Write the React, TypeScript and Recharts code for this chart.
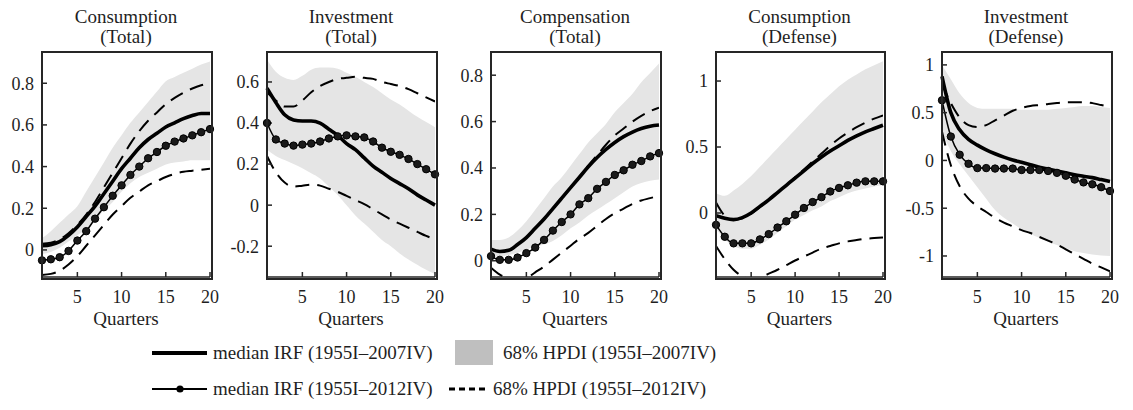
import React from 'react';
import { ComposedChart, Line, Area, XAxis, YAxis } from 'recharts';

// ---------- data ----------
const quarters = [1, 2, 3, 4, 5, 6, 7, 8, 9, 10, 11, 12, 13, 14, 15, 16, 17, 18, 19, 20];
const xTicks = [5, 10, 15, 20];

// Consumption (Total)
const consTotalMed07 = [0.02, 0.025, 0.04, 0.07, 0.11, 0.16, 0.21, 0.27, 0.33, 0.39, 0.44, 0.49, 0.53, 0.56, 0.59, 0.61, 0.63, 0.645, 0.655, 0.655];
const consTotalMed12 = [-0.05, -0.045, -0.035, -0.005, 0.045, 0.09, 0.15, 0.205, 0.26, 0.31, 0.36, 0.40, 0.44, 0.47, 0.50, 0.52, 0.535, 0.55, 0.565, 0.58];
const consTotalBandLo = [-0.02, -0.01, 0.01, 0.04, 0.07, 0.10, 0.14, 0.19, 0.23, 0.28, 0.32, 0.35, 0.37, 0.39, 0.41, 0.42, 0.425, 0.43, 0.43, 0.43];
const consTotalBandHi = [0.056, 0.09, 0.13, 0.17, 0.21, 0.28, 0.35, 0.42, 0.49, 0.55, 0.61, 0.66, 0.71, 0.76, 0.81, 0.83, 0.85, 0.87, 0.89, 0.905];
const consTotalHpdiLo = [-0.12, -0.115, -0.1, -0.07, -0.03, 0.02, 0.07, 0.12, 0.17, 0.21, 0.25, 0.28, 0.31, 0.33, 0.35, 0.365, 0.375, 0.38, 0.385, 0.39];
const consTotalHpdiHi = [0.03, 0.035, 0.05, 0.08, 0.12, 0.17, 0.23, 0.30, 0.37, 0.44, 0.51, 0.57, 0.62, 0.66, 0.70, 0.73, 0.755, 0.775, 0.79, 0.80];
const consTotalTicks = [0, 0.2, 0.4, 0.6, 0.8];

// Investment (Total)
const invTotalMed07 = [0.57, 0.50, 0.44, 0.415, 0.41, 0.41, 0.40, 0.37, 0.34, 0.30, 0.27, 0.23, 0.19, 0.16, 0.13, 0.105, 0.08, 0.05, 0.025, 0.0];
const invTotalMed12 = [0.40, 0.32, 0.30, 0.29, 0.295, 0.30, 0.31, 0.325, 0.335, 0.34, 0.335, 0.33, 0.31, 0.28, 0.26, 0.245, 0.225, 0.20, 0.175, 0.15];
const invTotalBandLo = [0.27, 0.24, 0.22, 0.20, 0.18, 0.155, 0.13, 0.09, 0.05, 0.0, -0.05, -0.09, -0.13, -0.17, -0.20, -0.235, -0.265, -0.29, -0.315, -0.335];
const invTotalBandHi = [0.71, 0.65, 0.62, 0.61, 0.63, 0.66, 0.67, 0.67, 0.665, 0.645, 0.625, 0.60, 0.575, 0.545, 0.515, 0.49, 0.46, 0.43, 0.405, 0.38];
const invTotalHpdiLo = [0.24, 0.16, 0.11, 0.09, 0.095, 0.10, 0.095, 0.08, 0.065, 0.045, 0.025, 0.005, -0.02, -0.045, -0.07, -0.09, -0.11, -0.13, -0.15, -0.165];
const invTotalHpdiHi = [0.55, 0.51, 0.48, 0.48, 0.51, 0.55, 0.58, 0.60, 0.615, 0.62, 0.625, 0.62, 0.615, 0.60, 0.59, 0.58, 0.565, 0.545, 0.525, 0.505];
const invTotalTicks = [-0.2, 0, 0.2, 0.4, 0.6];

// Compensation (Total)
const compTotalMed07 = [0.05, 0.04, 0.045, 0.07, 0.10, 0.14, 0.18, 0.225, 0.27, 0.315, 0.36, 0.405, 0.445, 0.48, 0.51, 0.535, 0.555, 0.57, 0.58, 0.585];
const compTotalMed12 = [0.02, 0.004, 0.004, 0.014, 0.033, 0.057, 0.09, 0.13, 0.167, 0.20, 0.243, 0.27, 0.31, 0.34, 0.37, 0.39, 0.414, 0.43, 0.45, 0.464];
const compTotalBandLo = [0.015, 0.02, 0.025, 0.035, 0.048, 0.06, 0.07, 0.085, 0.11, 0.14, 0.165, 0.195, 0.22, 0.245, 0.27, 0.295, 0.32, 0.335, 0.345, 0.35];
const compTotalBandHi = [0.09, 0.09, 0.10, 0.13, 0.17, 0.22, 0.27, 0.32, 0.36, 0.41, 0.46, 0.51, 0.55, 0.59, 0.64, 0.68, 0.72, 0.77, 0.81, 0.85];
const compTotalHpdiLo = [-0.03, -0.06, -0.075, -0.08, -0.075, -0.05, -0.025, 0.005, 0.035, 0.065, 0.095, 0.12, 0.15, 0.18, 0.205, 0.225, 0.245, 0.26, 0.27, 0.28];
const compTotalHpdiHi = [0.05, 0.04, 0.045, 0.07, 0.10, 0.14, 0.18, 0.225, 0.27, 0.315, 0.36, 0.41, 0.455, 0.50, 0.54, 0.57, 0.60, 0.625, 0.645, 0.66];
const compTotalTicks = [0, 0.2, 0.4, 0.6, 0.8];

// Consumption (Defense)
const consDefMed07 = [-0.02, -0.04, -0.05, -0.035, 0.0, 0.05, 0.10, 0.155, 0.21, 0.265, 0.32, 0.375, 0.425, 0.47, 0.51, 0.55, 0.585, 0.615, 0.64, 0.665];
const consDefMed12 = [-0.09, -0.18, -0.23, -0.23, -0.23, -0.20, -0.16, -0.11, -0.063, -0.013, 0.038, 0.083, 0.12, 0.163, 0.19, 0.21, 0.23, 0.24, 0.24, 0.24];
const consDefBandLo = [-0.12, -0.2, -0.25, -0.27, -0.27, -0.24, -0.2, -0.15, -0.1, -0.05, -0.015, 0.02, 0.05, 0.09, 0.12, 0.15, 0.17, 0.185, 0.2, 0.21];
const consDefBandHi = [0.15, 0.13, 0.17, 0.22, 0.28, 0.35, 0.42, 0.49, 0.56, 0.63, 0.70, 0.77, 0.84, 0.90, 0.96, 1.01, 1.05, 1.09, 1.12, 1.15];
const consDefHpdiLo = [-0.25, -0.35, -0.43, -0.48, -0.50, -0.49, -0.46, -0.43, -0.395, -0.36, -0.33, -0.30, -0.27, -0.25, -0.23, -0.215, -0.205, -0.195, -0.19, -0.185];
const consDefHpdiHi = [0.08, -0.02, -0.05, -0.04, -0.005, 0.045, 0.10, 0.155, 0.21, 0.27, 0.33, 0.39, 0.45, 0.51, 0.565, 0.61, 0.65, 0.685, 0.715, 0.74];
const consDefTicks = [0, 0.5, 1];

// Investment (Defense)
const invDefMed07 = [0.88, 0.5, 0.32, 0.22, 0.16, 0.11, 0.07, 0.035, 0.005, -0.02, -0.045, -0.07, -0.09, -0.11, -0.13, -0.15, -0.165, -0.18, -0.2, -0.22];
const invDefMed12 = [0.63, 0.25, 0.06, -0.035, -0.08, -0.08, -0.085, -0.085, -0.085, -0.1, -0.1, -0.1, -0.11, -0.13, -0.16, -0.2, -0.23, -0.25, -0.28, -0.32];
const invDefBandLo = [0.3, 0.1, -0.04, -0.16, -0.28, -0.4, -0.52, -0.6, -0.66, -0.72, -0.77, -0.81, -0.85, -0.885, -0.92, -0.95, -0.97, -0.985, -0.995, -1.0];
const invDefBandHi = [1.0, 0.85, 0.7, 0.6, 0.55, 0.54, 0.54, 0.54, 0.54, 0.53, 0.53, 0.53, 0.53, 0.54, 0.55, 0.56, 0.57, 0.57, 0.56, 0.55];
const invDefHpdiLo = [0.3, -0.05, -0.27, -0.4, -0.48, -0.54, -0.6, -0.65, -0.69, -0.73, -0.76, -0.8, -0.84, -0.88, -0.93, -0.98, -1.03, -1.08, -1.12, -1.16];
const invDefHpdiHi = [0.8, 0.6, 0.45, 0.37, 0.35, 0.37, 0.42, 0.47, 0.52, 0.55, 0.57, 0.58, 0.59, 0.6, 0.61, 0.61, 0.61, 0.6, 0.58, 0.56];
const invDefTicks = [-1, -0.5, 0, 0.5, 1];

const legendLabels = [
  'median IRF (1955I–2007IV)',
  '68% HPDI (1955I–2007IV)',
  'median IRF (1955I–2012IV)',
  '68% HPDI (1955I–2012IV)',
];

// ---------- styling ----------
const FONT = "'Liberation Serif', 'Times New Roman', serif";
const INK = '#1f1f1f';
const FRAME = '#262626';
const BAND = '#e5e5e5';
const PLOT_TOP = 52;
const PLOT_BOTTOM = 277;
const YW = 46;

function buildRows(m07: number[], m12: number[], bLo: number[], bHi: number[], hLo: number[], hHi: number[]) {
  return quarters.map((q, i) => ({
    q,
    med07: m07[i],
    med12: m12[i],
    band: [bLo[i], bHi[i]],
    hLo: hLo[i],
    hHi: hHi[i],
  }));
}

const panels = [
  { t1: 'Consumption', t2: '(Total)', left: 42, right: 210, domain: [-0.13, 0.95], ticks: consTotalTicks,
    rows: buildRows(consTotalMed07, consTotalMed12, consTotalBandLo, consTotalBandHi, consTotalHpdiLo, consTotalHpdiHi) },
  { t1: 'Investment', t2: '(Total)', left: 267, right: 435, domain: [-0.35, 0.746], ticks: invTotalTicks,
    rows: buildRows(invTotalMed07, invTotalMed12, invTotalBandLo, invTotalBandHi, invTotalHpdiLo, invTotalHpdiHi) },
  { t1: 'Compensation', t2: '(Total)', left: 491, right: 659, domain: [-0.07, 0.9], ticks: compTotalTicks,
    rows: buildRows(compTotalMed07, compTotalMed12, compTotalBandLo, compTotalBandHi, compTotalHpdiLo, compTotalHpdiHi) },
  { t1: 'Consumption', t2: '(Defense)', left: 716, right: 883, domain: [-0.485, 1.22], ticks: consDefTicks,
    rows: buildRows(consDefMed07, consDefMed12, consDefBandLo, consDefBandHi, consDefHpdiLo, consDefHpdiHi) },
  { t1: 'Investment', t2: '(Defense)', left: 942, right: 1110, domain: [-1.22, 1.135], ticks: invDefTicks,
    rows: buildRows(invDefMed07, invDefMed12, invDefBandLo, invDefBandHi, invDefHpdiLo, invDefHpdiHi) },
];

const empty = () => '';

function Panel({ cfg }: { cfg: any }) {
  const plotW = cfg.right - cfg.left;
  const rightPad = 14;
  const width = YW + plotW + rightPad;
  const height = 310;
  const tickStyle = { fill: INK, fontSize: 18, fontFamily: FONT };
  const lineStyle = { stroke: FRAME, strokeWidth: 1.5 };
  return (
    <div style={{ position: 'absolute', left: cfg.left - YW, top: 0, width, height }}>
      <ComposedChart width={width} height={height} data={cfg.rows}
        margin={{ top: PLOT_TOP, right: rightPad, bottom: 0, left: 0 }}>
        <XAxis xAxisId="b" dataKey="q" type="number" domain={[1, 20]} ticks={xTicks} orientation="bottom"
          height={height - PLOT_BOTTOM} tickSize={-5} tickMargin={18} tick={tickStyle} axisLine={lineStyle} tickLine={lineStyle} stroke={FRAME} />
        <XAxis xAxisId="t" dataKey="q" type="number" domain={[1, 20]} ticks={xTicks} orientation="top"
          height={0} tickSize={-5} tickFormatter={empty} allowDataOverflow axisLine={lineStyle} tickLine={lineStyle} stroke={FRAME} />
        <YAxis yAxisId="l" type="number" domain={cfg.domain} ticks={cfg.ticks} width={YW} tickSize={-5} tickMargin={13}
          tick={tickStyle} axisLine={lineStyle} tickLine={lineStyle} stroke={FRAME} />
        <YAxis yAxisId="r" orientation="right" type="number" domain={cfg.domain} ticks={cfg.ticks} width={0} tickSize={-5}
          tickFormatter={empty} allowDataOverflow axisLine={lineStyle} tickLine={lineStyle} stroke={FRAME} />
        <Area xAxisId="b" yAxisId="l" dataKey="band" type="monotone" fill={BAND} fillOpacity={1} stroke="none"
          isAnimationActive={false} />
        <Line xAxisId="t" yAxisId="r" dataKey="hHi" type="monotone" stroke="#000" strokeWidth={2}
          strokeDasharray="14 8" dot={false} isAnimationActive={false} />
        <Line xAxisId="t" yAxisId="r" dataKey="hLo" type="monotone" stroke="#000" strokeWidth={2}
          strokeDasharray="14 8" dot={false} isAnimationActive={false} />
        <Line xAxisId="b" yAxisId="l" dataKey="med07" type="monotone" stroke="#000" strokeWidth={3.6}
          dot={false} isAnimationActive={false} />
        <Line xAxisId="b" yAxisId="l" dataKey="med12" type="monotone" stroke="#000" strokeWidth={1.5}
          dot={{ r: 3.7, fill: '#1a1a1a', stroke: '#000', strokeWidth: 1 }} isAnimationActive={false} />
      </ComposedChart>
      {/* plot frame (box style only) */}
      <div style={{ position: 'absolute', left: YW - 1, top: PLOT_TOP - 1, width: plotW, height: PLOT_BOTTOM - PLOT_TOP,
        border: `2px solid ${FRAME}`, pointerEvents: 'none' }} />
    </div>
  );
}

const textBase: React.CSSProperties = { position: 'absolute', fontFamily: FONT, color: INK, whiteSpace: 'nowrap' };

export default function App() {
  return (
    <div style={{ position: 'absolute', left: 0, top: 0, width: 1133, height: 410, background: '#fff', overflow: 'hidden' }}>
      {panels.map((p, i) => {
        const cx = (p.left + p.right) / 2;
        return (
          <React.Fragment key={i}>
            <Panel cfg={p} />
            <div style={{ ...textBase, left: cx - 100, width: 200, textAlign: 'center', top: 7, fontSize: 19, lineHeight: '20px' }}>{p.t1}</div>
            <div style={{ ...textBase, left: cx - 100, width: 200, textAlign: 'center', top: 27, fontSize: 19, lineHeight: '20px' }}>{p.t2}</div>
            <div style={{ ...textBase, left: cx - 100, width: 200, textAlign: 'center', top: 309, fontSize: 19, lineHeight: '20px' }}>Quarters</div>
          </React.Fragment>
        );
      })}
      {/* legend */}
      <svg style={{ position: 'absolute', left: 0, top: 330 }} width={1133} height={80}>
        <line x1={152} y1={23} x2={207} y2={23} stroke="#000" strokeWidth={4} />
        <rect x={455} y={10} width={38} height={25} fill="#bfbfbf" />
        <line x1={152} y1={59} x2={207} y2={59} stroke="#000" strokeWidth={2} />
        <circle cx={180} cy={59} r={3.6} fill="#000" />
        <line x1={449} y1={59} x2={487} y2={59} stroke="#000" strokeWidth={3} strokeDasharray="6 4" />
      </svg>
      <div style={{ ...textBase, left: 213, top: 341, fontSize: 19, lineHeight: '24px' }}>{legendLabels[0]}</div>
      <div style={{ ...textBase, left: 503, top: 341, fontSize: 19, lineHeight: '24px' }}>{legendLabels[1]}</div>
      <div style={{ ...textBase, left: 213, top: 377, fontSize: 19, lineHeight: '24px' }}>{legendLabels[2]}</div>
      <div style={{ ...textBase, left: 493, top: 377, fontSize: 19, lineHeight: '24px' }}>{legendLabels[3]}</div>
    </div>
  );
}
